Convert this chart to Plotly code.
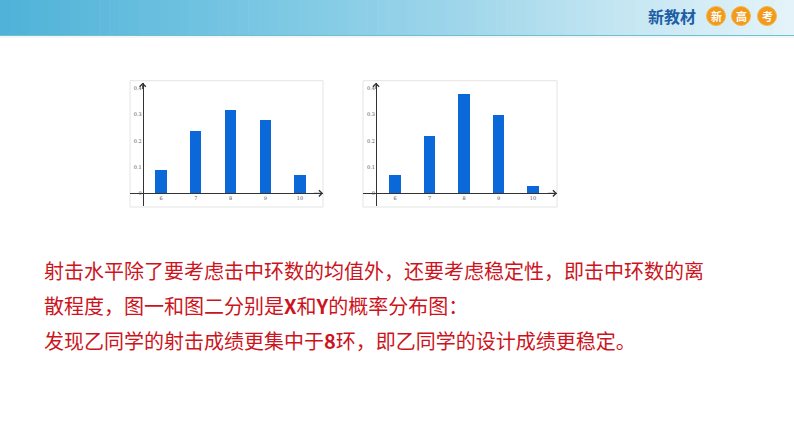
import plotly.graph_objects as go

# ---------------- data ----------------
scores = [6, 7, 8, 9, 10]
score_labels = ["6", "7", "8", "9", "10"]
prob_X = [0.09, 0.24, 0.32, 0.28, 0.07]   # 图一
prob_Y = [0.07, 0.22, 0.38, 0.30, 0.03]   # 图二
y_ticks = [0, 0.1, 0.2, 0.3, 0.4]
y_tick_labels = ["0", "0.1", "0.2", "0.3", "0.4"]

text_lines = [
    "射击水平除了要考虑击中环数的均值外，还要考虑稳定性，即击中环数的离",
    "散程度，图一和图二分别是<b>X</b>和<b>Y</b>的概率分布图：",
    "发现乙同学的射击成绩更集中于<b>8</b>环，即乙同学的设计成绩更稳定。",
]
header_title = "新教材"
header_badges = ["新", "高", "考"]

# ---------------- geometry helpers ----------------
W, H = 794, 447


def px(x):
    return x / W


def py(y):
    return 1 - y / H


BAR_COLOR = "#0a68d8"
AX_COLOR = "#333333"
TICK_FONT = dict(family="DejaVu Serif", size=5, color="#555555")

fig = go.Figure()
fig.add_trace(go.Bar(x=scores, y=prob_X, width=0.32, marker_color=BAR_COLOR,
                     marker_line_width=0, xaxis="x", yaxis="y", showlegend=False))
fig.add_trace(go.Bar(x=scores, y=prob_Y, width=0.32, marker_color=BAR_COLOR,
                     marker_line_width=0, xaxis="x2", yaxis="y2", showlegend=False))

# chart pixel geometry: (frame left, frame right, x=6 pixel, x=10 pixel, y-axis pixel)
charts = [
    dict(fl=130, fr=323, p6=161, p10=300, yax=142.7, xs="x", ys="y"),
    dict(fl=363, fr=557, p6=395, p10=533, yax=376, xs="x2", ys="y2"),
]
top_px, bot_px, zero_px, p04 = 82.7, 206, 193.3, 88.3
ppu_y = (zero_px - p04) / 0.4
y_lo = -(bot_px - zero_px) / ppu_y
y_hi = (zero_px - top_px) / ppu_y

shapes = []
annotations = []
layout_axes = {}
for i, c in enumerate(charts):
    ppu = (c["p10"] - c["p6"]) / 4
    x_lo = 6 - (c["p6"] - c["fl"]) / ppu
    x_hi = 10 + (c["fr"] - c["p10"]) / ppu
    yax_val = x_lo + (c["yax"] - c["fl"]) / ppu
    sfx = "" if i == 0 else str(i + 1)
    layout_axes["xaxis" + sfx] = dict(
        domain=[px(c["fl"]), px(c["fr"])], range=[x_lo, x_hi],
        anchor="free", position=py(zero_px),
        showline=True, linecolor=AX_COLOR, linewidth=1,
        tickvals=scores, ticktext=score_labels, ticks="",
        tickfont=TICK_FONT, showgrid=False, zeroline=False, fixedrange=True,
    )
    layout_axes["yaxis" + sfx] = dict(
        domain=[py(bot_px), py(top_px)], range=[y_lo, y_hi],
        anchor="free", position=px(c["yax"]),
        showline=True, linecolor=AX_COLOR, linewidth=1,
        tickvals=y_ticks, ticktext=y_tick_labels, ticks="",
        tickfont=TICK_FONT, showgrid=False, zeroline=False, fixedrange=True,
    )
    # light frame around the chart image
    shapes.append(dict(type="rect", xref="paper", yref="paper",
                       x0=px(c["fl"]), x1=px(c["fr"]), y0=py(bot_px + 1), y1=py(top_px - 2),
                       line=dict(color="#e4e4e4", width=1), fillcolor="rgba(0,0,0,0)",
                       layer="below"))
    # arrow heads
    annotations.append(dict(x=yax_val, y=y_hi, xref=c["xs"], yref=c["ys"],
                            ax=yax_val, ay=y_hi - 0.03, axref=c["xs"], ayref=c["ys"],
                            text="", showarrow=True, arrowhead=4, arrowsize=1.2,
                            arrowwidth=1, arrowcolor=AX_COLOR))
    annotations.append(dict(x=x_hi, y=0, xref=c["xs"], yref=c["ys"],
                            ax=x_hi - 0.3, ay=0, axref=c["xs"], ayref=c["ys"],
                            text="", showarrow=True, arrowhead=4, arrowsize=1.2,
                            arrowwidth=1, arrowcolor=AX_COLOR))

# ---------------- header gradient band ----------------
stops = [(0, (79, 178, 216)), (300, (128, 202, 229)), (450, (157, 213, 234)),
         (620, (196, 230, 242)), (794, (228, 243, 249))]


def grad(x):
    for (x0, c0), (x1, c1) in zip(stops[:-1], stops[1:]):
        if x0 <= x <= x1:
            t = (x - x0) / (x1 - x0)
            return "rgb(%d,%d,%d)" % tuple(round(a + (b - a) * t) for a, b in zip(c0, c1))
    return "rgb(%d,%d,%d)" % stops[-1][1]


n = 80
for k in range(n):
    x0 = W * k / n
    x1 = W * (k + 1) / n + 0.6
    shapes.append(dict(type="rect", xref="paper", yref="paper",
                       x0=px(x0), x1=px(min(x1, W)), y0=py(35), y1=py(0),
                       fillcolor=grad((x0 + x1) / 2), line=dict(width=0), layer="below"))
shapes.append(dict(type="line", xref="paper", yref="paper", x0=0, x1=1,
                   y0=py(35.5), y1=py(35.5), line=dict(color="#6fc0cc", width=1.2)))
shapes.append(dict(type="line", xref="paper", yref="paper", x0=0, x1=1,
                   y0=py(37), y1=py(37), line=dict(color="#eef6f8", width=1.5)))

annotations.append(dict(x=px(672), y=py(16), xref="paper", yref="paper",
                        xanchor="center", yanchor="middle",
                        text="<b>" + header_title + "</b>", showarrow=False,
                        font=dict(family="Noto Sans CJK SC", size=16, color="#1d5ea6")))
for cx, ch in zip([716, 741, 767], header_badges):
    shapes.append(dict(type="circle", xref="paper", yref="paper",
                       x0=px(cx - 9.5), x1=px(cx + 9.5), y0=py(16 + 9.5), y1=py(16 - 9.5),
                       fillcolor="#f19a1c", line=dict(color="#f7b54a", width=1),
                       layer="below"))
    annotations.append(dict(x=px(cx), y=py(16), xref="paper", yref="paper",
                            xanchor="center", yanchor="middle",
                            text="<b>" + ch + "</b>", showarrow=False,
                            font=dict(family="Noto Sans CJK SC", size=11, color="white")))

# ---------------- red explanatory text ----------------
for yy, line in zip([270, 305, 340], text_lines):
    annotations.append(dict(x=px(42), y=py(yy), xref="paper", yref="paper",
                            xanchor="left", yanchor="middle", text=line, showarrow=False,
                            font=dict(family="Noto Sans CJK SC", size=20, color="#cc1421")))

fig.update_layout(
    width=W, height=H, margin=dict(l=0, r=0, t=0, b=0),
    paper_bgcolor="white", plot_bgcolor="rgba(0,0,0,0)",
    shapes=shapes, annotations=annotations, bargap=0,
    **layout_axes,
)

fig.write_html("out.html", config={"displayModeBar": False},
               post_script="document.body.style.margin='0';document.body.style.overflow='hidden';")
